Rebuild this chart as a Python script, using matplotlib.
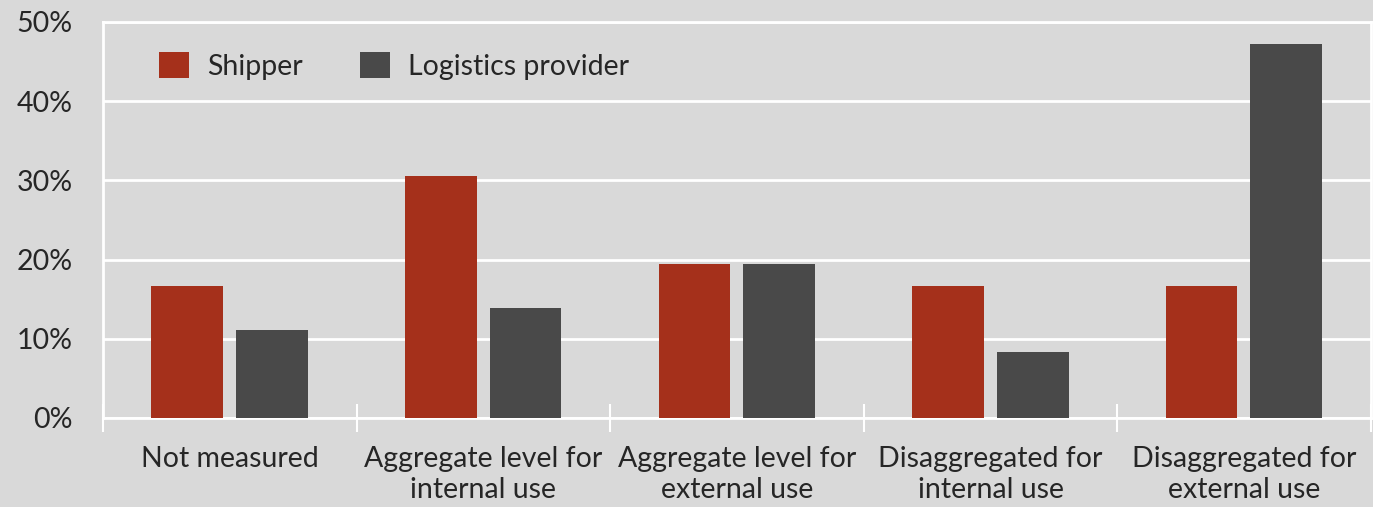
import matplotlib
matplotlib.use("Agg")
import matplotlib.pyplot as plt
import numpy as np

categories = ["Not measured", "Aggregate level for\ninternal use", "Aggregate level for\nexternal use",
              "Disaggregated for\ninternal use", "Disaggregated for\nexternal use"]
shipper = [16.7, 30.6, 19.4, 16.7, 16.7]
logistics = [11.1, 13.9, 19.4, 8.3, 47.2]
series_names = ["Shipper", "Logistics provider"]

plt.rcParams['font.family'] = ['Lato', 'DejaVu Sans']

bg = '#d9d9d9'
red = '#a5301b'
grey = '#494949'
txt = '#262626'
fs = 20.5

fig = plt.figure(figsize=(13.73, 5.07), dpi=100, facecolor=bg)
ax = fig.add_axes([103 / 1373, 1 - 418 / 507, 1268 / 1373, 396 / 507])
ax.set_facecolor(bg)

x = np.arange(len(categories))
w = 0.283
ax.bar(x - 0.168, shipper, w, color=red, label=series_names[0], zorder=3)
ax.bar(x + 0.166, logistics, w, color=grey, label=series_names[1], zorder=3)

ax.set_xlim(-0.5, len(categories) - 0.5)
ax.set_ylim(0, 50)
ax.set_yticks(range(0, 51, 10))
ax.set_yticklabels([f"{v}%" for v in range(0, 51, 10)])
ax.yaxis.grid(True, color='white', linewidth=2)
ax.set_axisbelow(True)

for s in ax.spines.values():
    s.set_color('white')
    s.set_linewidth(2)

ax.set_xticks(np.arange(-0.5, len(categories), 1))
ax.set_xticklabels([])
ax.set_xticks(x, minor=True)
ax.set_xticklabels(categories, minor=True, fontsize=fs, color=txt, linespacing=1.25)
ax.tick_params(axis='x', which='major', direction='inout', length=20, width=1.5, color='white')
ax.tick_params(axis='x', which='minor', length=0, pad=20)
ax.tick_params(axis='y', length=0, labelsize=fs, labelcolor=txt, pad=22)

leg = ax.legend(loc='upper left', ncol=2, frameon=False, fontsize=fs, handlelength=1.05, handleheight=1.05,
                columnspacing=2.0, handletextpad=0.65, bbox_to_anchor=(0.024, 0.99))
for t in leg.get_texts():
    t.set_color(txt)

fig.savefig("out.png", dpi=100, facecolor=bg)
